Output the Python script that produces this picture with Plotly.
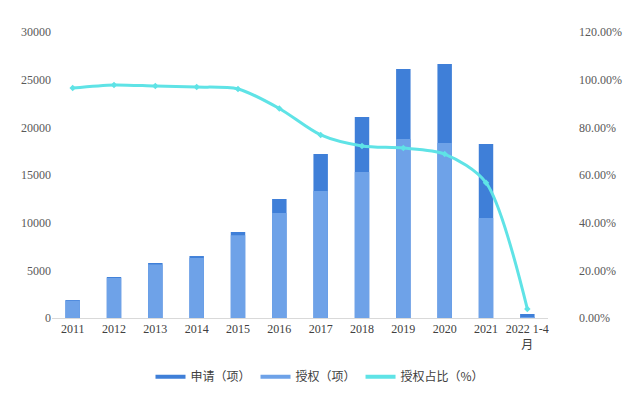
import plotly.graph_objects as go

categories = ["2011", "2012", "2013", "2014", "2015", "2016", "2017", "2018", "2019", "2020", "2021", "2022 1-4<br>月"]
applications = [1890, 4300, 5770, 6500, 9020, 12480, 17200, 21080, 26120, 26640, 18250, 420]
grants = [1825, 4205, 5615, 6300, 8670, 11010, 13320, 15310, 18780, 18360, 10490, 16]
grant_ratio = [96.5, 97.8, 97.3, 96.9, 96.1, 87.9, 76.8, 72.2, 71.3, 68.8, 56.8, 3.8]

left_ticks = [0, 5000, 10000, 15000, 20000, 25000, 30000]
left_labels = ["0", "5000", "10000", "15000", "20000", "25000", "30000"]
right_ticks = [0, 20, 40, 60, 80, 100, 120]
right_labels = ["0.00%", "20.00%", "40.00%", "60.00%", "80.00%", "100.00%", "120.00%"]

dark_blue = "#3f7fd8"
light_blue = "#6ea2e8"
cyan = "#5fe3e6"

fig = go.Figure()
fig.add_trace(go.Bar(x=categories, y=applications, name="申请（项）", marker_color=dark_blue,
                     marker_line_width=0, width=0.35, showlegend=False))
fig.add_trace(go.Bar(x=categories, y=grants, name="授权（项）", marker_color=light_blue,
                     marker_line_width=0, width=0.35, showlegend=False))
fig.add_trace(go.Scatter(x=categories, y=grant_ratio, name="授权占比（%）", yaxis="y2",
                         mode="lines+markers", line=dict(color=cyan, width=3, shape="spline", smoothing=0.8),
                         marker=dict(symbol="diamond", size=5, color=cyan), showlegend=False))

# legend entries drawn as line swatches
for nm, col in [("申请（项）", dark_blue), ("授权（项）", light_blue), ("授权占比（%）", cyan)]:
    fig.add_trace(go.Scatter(x=[None], y=[None], mode="lines", name=nm,
                             line=dict(color=col, width=4)))

fig.update_layout(
    width=640, height=399,
    margin=dict(l=52, r=92, t=32, b=81),
    paper_bgcolor="white", plot_bgcolor="white",
    barmode="overlay",
    font=dict(family="Liberation Serif, serif", size=12, color="#595959"),
    xaxis=dict(range=[-0.5, len(categories) - 0.5], showgrid=False, showline=True, linecolor="#d9d9d9",
               linewidth=1, automargin=False, ticks="",
               tickfont=dict(family="Liberation Serif, Noto Sans CJK SC", size=12, color="#404040")),
    yaxis=dict(range=[0, 30000], tickvals=left_ticks, ticktext=left_labels, showgrid=False, zeroline=False,
               showline=False, automargin=False, tickfont=dict(size=12, color="#595959")),
    yaxis2=dict(range=[0, 120], tickvals=right_ticks, ticktext=right_labels, overlaying="y",
                side="right", showgrid=False, zeroline=False, showline=False, automargin=False,
                ticklabelstandoff=30, tickfont=dict(size=12, color="#595959")),
    legend=dict(orientation="h", xref="container", yref="container", x=0.5, xanchor="center",
                y=0.092, yanchor="top",
                font=dict(family="Noto Sans CJK SC", size=12, color="#404040"),
                itemwidth=30, tracegroupgap=0),
    showlegend=True,
)

fig.write_html("out.html", config={"displayModeBar": False},
               post_script="document.body.style.margin='0';document.body.style.overflow='hidden';")
